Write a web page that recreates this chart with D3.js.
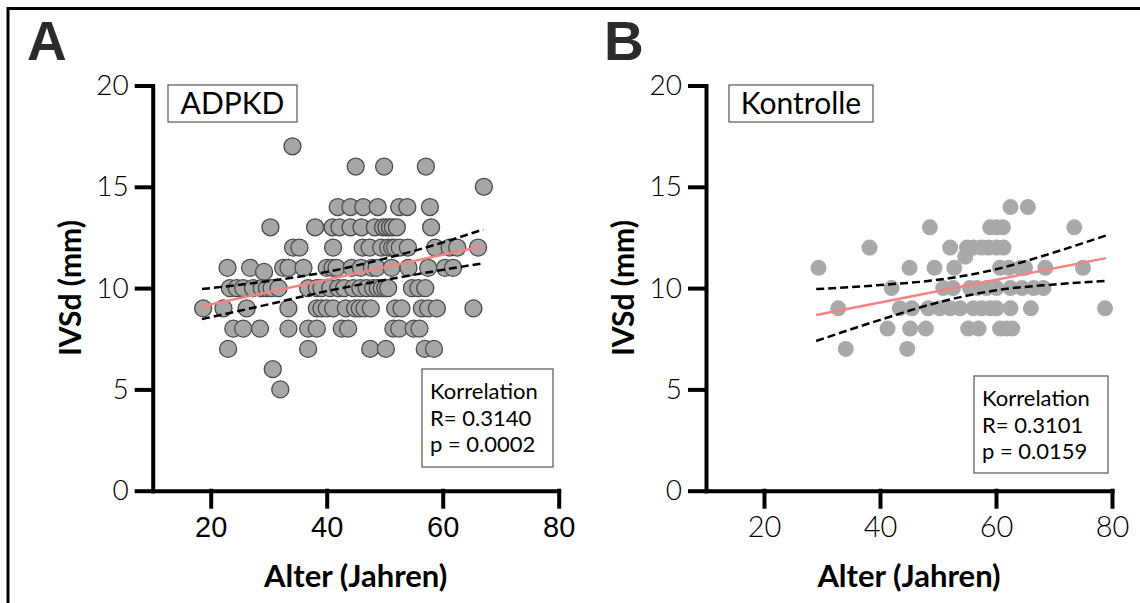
<!DOCTYPE html>
<html>
<head>
<meta charset="utf-8">
<script src="https://cdn.jsdelivr.net/npm/d3@7"></script>
<style>
  body { margin: 0; background: #fff; }
  svg { display: block; }
</style>
</head>
<body>
<svg id="chart" width="1140" height="603"></svg>
<script>
const xTicks = [20, 40, 60, 80];
const yTicks = [0, 5, 10, 15, 20];

// ADPKD: [IVSd, [ages...]]
const adpkdRows = [
  [17, [34.1]],
  [16, [45, 49.9, 57.1]],
  [15, [67.1]],
  [14, [41.9, 44.1, 46.3, 48.8, 52.5, 53.9, 57.8]],
  [13, [30.3, 38, 41, 42.2, 44.1, 46, 48.3, 49.7, 50.3, 50.9, 51.4, 52.1, 58]],
  [12, [34.2, 35.3, 41.1, 46.2, 47.4, 49.4, 50.6, 51.3, 51.8, 52.6, 54, 58.7, 61.2, 62.5, 66.1]],
  [11, [22.9, 26.8, 32.5, 33.4, 36, 40, 41, 41.7, 44.3, 45.9, 47.8, 48.6, 51.2, 54.1, 57.5, 60.4, 61.8]],
  [10.8, [29.2]],
  [10, [23.3, 24.5, 25.6, 27.3, 28.8, 29.7, 30.5, 31.7, 36.8, 38.3, 39.1, 40.6, 42, 43, 44.6, 45.8, 46.9, 48, 48.8, 49.5, 50.1, 50.6, 54.7, 55.8, 57]],
  [9, [18.7, 22.2, 26.2, 33.4, 38.3, 39.1, 40, 41.1, 43.3, 44.9, 45.7, 46.5, 47.6, 51.8, 52.9, 56.4, 57.5, 59, 65.3]],
  [8, [23.9, 25.6, 28.5, 33.4, 36.8, 38.3, 42.6, 43.7, 51.5, 52.5, 55, 56]],
  [7, [23, 36.8, 47.5, 50.2, 56.9, 58.5]],
  [6, [30.7]],
  [5, [32]]
];
const adpkdFit = [[18.5, 9.1], [67, 12.07]];
const adpkdUpper = [[18.5, 9.95], [30, 10.35], [40, 10.8], [50, 11.45], [60, 12.25], [67, 12.9]];
const adpkdLower = [[18.5, 8.47], [30, 9.2], [40, 9.85], [50, 10.4], [60, 10.9], [67, 11.23]];
const adpkdStats = ['Korrelation', 'R= 0.3140', 'p = 0.0002'];

// Kontrolle
const kontrolleRows = [
  [14, [62.5, 65.5]],
  [13, [48.6, 59, 60.1, 61.2, 73.5]],
  [12, [38.2, 52.1, 55, 56.1, 57.5, 58.7, 60.1, 61.3]],
  [11.55, [54.7]],
  [11, [29.4, 45.1, 49.4, 52.8, 60.7, 62.2, 64.2, 65, 68.5, 75]],
  [10, [42, 50.9, 52.6, 55.5, 56.7, 58.4, 60.1, 62.5, 64.5, 66.5, 68.2]],
  [9, [32.8, 43.4, 45.5, 48.3, 50.3, 52.1, 53.8, 56.1, 57.5, 59, 60.1, 62.5, 66, 78.8]],
  [8, [41.3, 45.2, 47.9, 55.2, 57, 60.7, 61.8, 62.8]],
  [7, [34.1, 44.7]]
];
const kontrolleFit = [[29, 8.67], [79, 11.48]];
const kontrolleUpper = [[29, 9.95], [40, 10.15], [50, 10.41], [60, 10.93], [70, 11.76], [79, 12.6]];
const kontrolleLower = [[29, 7.39], [40, 8.43], [50, 9.29], [60, 9.89], [70, 10.18], [79, 10.36]];
const kontrolleStats = ['Korrelation', 'R= 0.3101', 'p = 0.0159'];

const svg = d3.select('#chart');
const optima = 'Lato, "Open Sans", sans-serif';

// outer frame (top + left)
svg.append('path')
  .attr('d', 'M8,603 V8.5 H1140')
  .attr('fill', 'none')
  .attr('stroke', '#000')
  .attr('stroke-width', 3);

const drawPanel = (cfg) => {
  const x = d3.scaleLinear().domain([10, 80]).range([cfg.left, cfg.left + 406]);
  const y = d3.scaleLinear().domain([0, 20]).range([490.7, 85.5]);
  const g = svg.append('g');

  // panel letter
  g.append('text')
    .attr('x', cfg.letterX)
    .attr('y', 60)
    .style('font-family', '"Liberation Sans", Arial, sans-serif')
    .style('font-weight', 'bold')
    .style('font-size', '55px')
    .style('fill', '#2b2b2b')
    .text(cfg.letter);

  // points
  const pts = cfg.rows.flatMap(([v, ages]) => ages.map(a => [a, v]));
  g.selectAll('circle')
    .data(pts)
    .enter()
    .append('circle')
    .attr('cx', d => x(d[0]))
    .attr('cy', d => y(d[1]))
    .attr('r', cfg.r)
    .attr('fill', cfg.fill)
    .attr('stroke', cfg.stroke)
    .attr('stroke-width', cfg.stroke === 'none' ? 0 : 1.3);

  const line = d3.line().x(d => x(d[0])).y(d => y(d[1]));
  const band = d3.line().x(d => x(d[0])).y(d => y(d[1])).curve(d3.curveMonotoneX);

  [cfg.upper, cfg.lower].forEach(b => {
    g.append('path')
      .attr('d', band(b))
      .attr('fill', 'none')
      .attr('stroke', '#000')
      .attr('stroke-width', 2.5)
      .attr('stroke-dasharray', '8,4');
  });

  g.append('path')
    .attr('d', line(cfg.fit))
    .attr('fill', 'none')
    .attr('stroke', '#f58383')
    .attr('stroke-width', 2.5);

  // axes
  const yAxis = g.append('g')
    .attr('transform', `translate(${cfg.left},0)`)
    .call(d3.axisLeft(y).tickValues(yTicks).tickSize(16).tickSizeOuter(0).tickPadding(8));
  const xAxis = g.append('g')
    .attr('transform', 'translate(0,490.7)')
    .call(d3.axisBottom(x).tickValues(xTicks).tickSize(16).tickSizeOuter(0).tickPadding(10));

  [yAxis, xAxis].forEach(a => {
    a.select('.domain').attr('stroke-width', 4).attr('stroke-linecap', 'square');
    a.selectAll('.tick line').attr('stroke-width', 4).attr('stroke-linecap', 'square');
  });
  yAxis.selectAll('text')
    .style('font-family', optima)
    .style('font-size', '28px')
    .style('font-weight', 300)
    .style('fill', '#000');
  xAxis.selectAll('text')
    .style('font-family', cfg.xFont)
    .style('font-size', '29px')
    .style('font-weight', cfg.xFont === optima ? 300 : 400)
    .style('fill', '#000');

  // axis titles
  g.append('text')
    .attr('transform', `translate(${cfg.left - 72},${(85.5 + 490.7) / 2}) rotate(-90)`)
    .attr('text-anchor', 'middle')
    .style('font-family', optima)
    .style('font-weight', 'bold')
    .style('font-size', '30px')
    .text('IVSd (mm)');

  g.append('text')
    .attr('x', cfg.left + 203)
    .attr('y', 587)
    .attr('text-anchor', 'middle')
    .style('font-family', optima)
    .style('font-weight', 'bold')
    .style('font-size', '31px')
    .text('Alter (Jahren)');

  // group label box
  g.append('rect')
    .attr('x', cfg.nameBox[0])
    .attr('y', 85)
    .attr('width', cfg.nameBox[1])
    .attr('height', 37)
    .attr('fill', '#fff')
    .attr('stroke', '#555')
    .attr('stroke-width', 1.2);
  g.append('text')
    .attr('x', cfg.nameBox[0] + cfg.nameBox[1] / 2)
    .attr('y', 114)
    .attr('text-anchor', 'middle')
    .style('font-family', optima)
    .style('font-size', '30px')
    .text(cfg.name);

  // stats box
  const sb = cfg.statBox;
  g.append('rect')
    .attr('x', sb[0])
    .attr('y', sb[1])
    .attr('width', sb[2])
    .attr('height', sb[3])
    .attr('fill', '#fff')
    .attr('stroke', '#555')
    .attr('stroke-width', 1.2);
  g.selectAll('.stat')
    .data(cfg.stats)
    .enter()
    .append('text')
    .attr('class', 'stat')
    .attr('x', sb[0] + 8)
    .attr('y', (d, i) => sb[1] + 30 + i * 26.5)
    .style('font-family', optima)
    .style('font-size', '22px')
    .text(d => d);
};

drawPanel({
  letter: 'A', letterX: 27, left: 152.7,
  rows: adpkdRows, fit: adpkdFit, upper: adpkdUpper, lower: adpkdLower,
  r: 8.5, fill: '#a6a6a6', stroke: '#4a4a4a',
  xFont: '"Liberation Sans", Arial, sans-serif',
  name: 'ADPKD', nameBox: [168, 129],
  stats: adpkdStats, statBox: [422, 369, 131, 98]
});

drawPanel({
  letter: 'B', letterX: 604, left: 706,
  rows: kontrolleRows, fit: kontrolleFit, upper: kontrolleUpper, lower: kontrolleLower,
  r: 8, fill: '#a9a9a9', stroke: 'none',
  xFont: optima,
  name: 'Kontrolle', nameBox: [729, 144],
  stats: kontrolleStats, statBox: [974, 376, 134, 97]
});
</script>
</body>
</html>
